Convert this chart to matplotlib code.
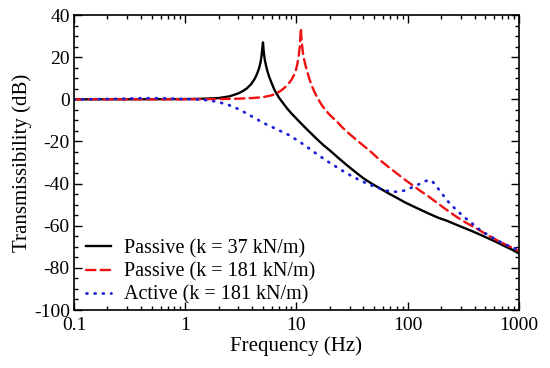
"""Transmissibility of passive and active isolators versus frequency."""

import matplotlib

matplotlib.use("Agg")

import matplotlib.pyplot as plt
from matplotlib.ticker import FixedLocator, LogLocator, MultipleLocator, NullFormatter

plt.rcParams["font.family"] = ["Liberation Serif", "DejaVu Serif"]
plt.rcParams["axes.unicode_minus"] = False

# values
passive_37_freq = [0.1, 0.3, 1, 1.5, 2, 2.5, 3, 3.3, 3.6, 3.9, 4.2, 4.4, 4.6, 4.75,
                   4.85, 4.93, 5.0, 5.05, 5.12, 5.2, 5.35, 5.5, 5.7, 6.0, 6.3, 6.6,
                   7.0, 7.5, 8.2, 9, 10, 11.5, 13, 15, 17.5, 20, 24, 28, 34, 40, 48,
                   56, 67, 80, 95, 112, 135, 160, 190, 224, 270, 320, 380, 446, 530,
                   630, 750, 870, 1000]
passive_37_db = [0, 0, 0.1, 0.3, 0.6, 1.4, 2.8, 3.9, 5.3, 7.1, 9.6, 11.8, 14.5, 17.5,
                 20.5, 24.0, 27.0, 24.0, 21.0, 18.5, 15.5, 13.0, 10.5, 7.5, 4.8, 2.8,
                 0.6, -1.5, -4.2, -6.7, -9.2, -12.5, -15.3, -18.5, -21.8, -24.3, -28.0,
                 -31.0, -34.6, -37.5, -40.2, -42.2, -44.6, -46.8, -49.0, -50.8, -52.8,
                 -54.6, -56.3, -57.6, -59.4, -61.0, -62.6, -64.2, -66.0, -67.8, -69.8,
                 -71.4, -73.2]

passive_181_freq = [0.1, 1, 2, 3, 4, 5, 6, 6.5, 7, 7.5, 8, 8.5, 9, 9.5, 9.9, 10.2,
                    10.5, 10.7, 10.85, 10.95, 11.05, 11.2, 11.4, 11.7, 12, 12.5, 13,
                    13.7, 14.5, 15.5, 17, 18.5, 20, 23, 26, 30, 35, 40, 48, 56, 66, 80,
                    95, 112, 130, 150, 180, 224, 270, 320, 380, 446, 530, 630, 750,
                    870, 1000]
passive_181_db = [0, 0, 0.1, 0.3, 0.6, 1.0, 1.9, 2.6, 3.6, 4.7, 6.0, 7.5, 9.2, 11.5,
                  14.0, 17.0, 21.0, 25.0, 30.0, 33.7, 30.0, 26.0, 22.5, 19.0, 16.5,
                  13.0, 10.0, 6.5, 3.5, 0.5, -3.0, -5.5, -7.5, -10.5, -13.5, -16.5,
                  -19.5, -22.0, -25.5, -28.8, -31.8, -35.2, -38.3, -41.0, -43.5, -45.7,
                  -48.8, -52.5, -55.5, -58.0, -60.2, -62.3, -64.6, -66.8, -68.8, -70.5,
                  -72.0]

active_181_freq = [0.1, 0.15, 0.2, 0.3, 0.4, 0.5, 0.6, 0.7, 0.85, 1, 1.2, 1.4, 1.6,
                   1.8, 2, 2.3, 2.6, 3, 3.5, 4, 4.7, 5.4, 6.3, 7, 8.5, 10, 12, 14, 17,
                   20, 24, 28, 34, 40, 48, 56, 65, 75, 85, 95, 105, 115, 125, 135, 145,
                   155, 162, 170, 180, 195, 215, 240, 280, 320, 380, 446, 530, 630,
                   750, 870, 1000]
active_181_db = [0, 0.05, 0.15, 0.35, 0.5, 0.55, 0.5, 0.4, 0.25, 0.1, 0.0, -0.2, -0.5,
                 -0.9, -1.4, -2.2, -3.2, -4.6, -6.5, -8.2, -10.3, -12.0, -13.6, -14.8,
                 -16.9, -19.2, -22.0, -24.6, -27.7, -30.2, -32.8, -35.0, -37.4, -39.2,
                 -41.0, -42.3, -43.4, -43.9, -43.8, -43.2, -42.2, -41.3, -40.4, -39.6,
                 -38.8, -38.3, -38.5, -39.5, -41.2, -43.5, -46.5, -49.6, -53.0, -55.8,
                 -59.0, -62.0, -64.5, -66.8, -68.8, -70.3, -71.6]

series = [
    ("Passive (k = 37 kN/m)", passive_37_freq, passive_37_db, "black", "-", 1.7),
    ("Passive (k = 181 kN/m)", passive_181_freq, passive_181_db, "#ee1111",
     (0, (4.0, 2.2)), 1.7),
    ("Active (k = 181 kN/m)", active_181_freq, active_181_db, "#1f1fd6",
     (0, (0.35, 2.6)), 2.0),
]

fig = plt.figure(figsize=(5.5, 3.68), dpi=100)
ax = fig.add_axes([0.1345, 0.1576, 0.8091, 0.8016])

for label, freq, db, colour, style, width in series:
    ax.plot(freq, db, color=colour, linestyle=style, linewidth=width,
            dash_capstyle="round", label=label)

ax.set_xscale("log")
ax.set_xlim(0.1, 1000)
ax.set_ylim(-100, 40)
ax.xaxis.set_major_locator(FixedLocator([0.1, 1, 10, 100, 1000]))
ax.set_xticklabels(["0.1", "1", "10", "100", "1000"])
ax.xaxis.set_minor_locator(LogLocator(base=10, subs=range(2, 10)))
ax.xaxis.set_minor_formatter(NullFormatter())
ax.yaxis.set_major_locator(MultipleLocator(20))
ax.yaxis.set_minor_locator(MultipleLocator(5))

ax.tick_params(which="both", direction="in", top=True, right=True, labelsize=14,
               width=1.0, colors="black")
ax.tick_params(which="major", length=6)
ax.tick_params(which="minor", length=3)
ax.tick_params(axis="x", pad=5)
ax.tick_params(axis="y", pad=3)
for spine in ax.spines.values():
    spine.set_linewidth(1.2)

ax.set_xlabel("Frequency (Hz)", fontsize=15, labelpad=2)
ax.set_ylabel("Transmissibility (dB)", fontsize=15, labelpad=1)

ax.legend(loc="lower left", frameon=False, fontsize=14.5, handlelength=1.2,
          handletextpad=0.65, labelspacing=0.2, borderaxespad=0.0,
          bbox_to_anchor=(0.01, -0.01))

fig.savefig("out.png", dpi=100)
